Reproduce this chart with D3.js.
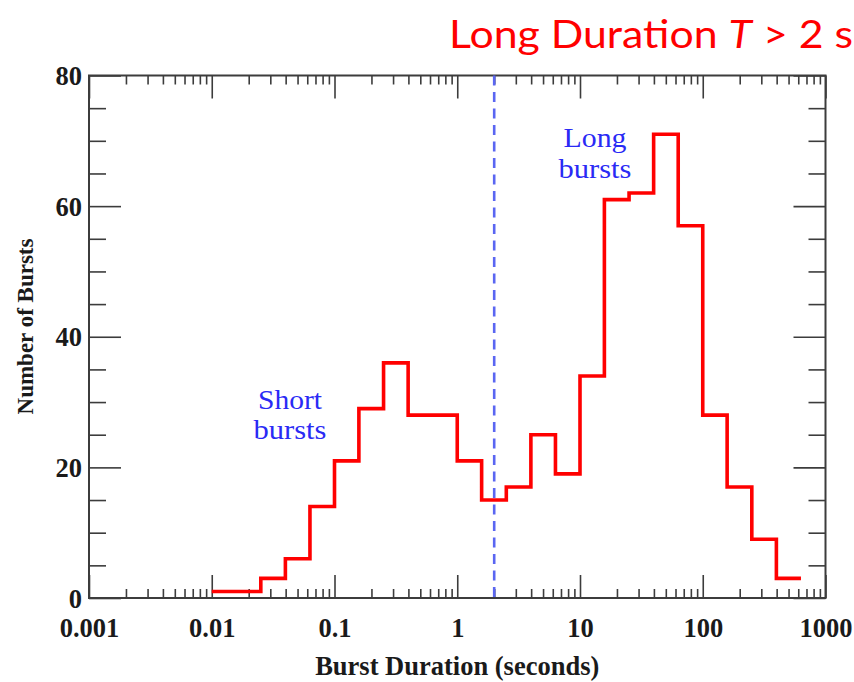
<!DOCTYPE html>
<html>
<head>
<meta charset="utf-8">
<script src="https://cdn.jsdelivr.net/npm/d3@7"></script>
<style>
  html, body { margin: 0; padding: 0; background: #fff; }
  svg { display: block; }
</style>
</head>
<body>
<svg id="chart" width="854" height="682"></svg>
<script>
// ---- data ----
const binEdges = [0.01, 0.0158, 0.0251, 0.0398, 0.0631, 0.1, 0.158, 0.251, 0.398, 0.631,
                  1, 1.58, 2.51, 3.98, 6.31, 10, 15.8, 25.1, 39.8, 63.1, 100, 158, 251, 398, 631];
const counts = [1, 1, 3, 6, 14, 21, 29, 36, 28, 28, 21, 15, 17, 25, 19, 34, 61, 62, 71, 57, 28, 17, 9, 3];
const xTickValues = [0.001, 0.01, 0.1, 1, 10, 100, 1000];
const xTickLabels = ["0.001", "0.01", "0.1", "1", "10", "100", "1000"];
const yTickValues = [0, 20, 40, 60, 80];
const yMinorValues = [5, 10, 15, 25, 30, 35, 45, 50, 55, 65, 70, 75];
const dividerValue = [2];
const titleParts = ["Long Duration ", "T", " > 2 s"];
const annotationLines = [["Short", "bursts"], ["Long", "bursts"]];

// ---- layout ----
const L = 89, R = 825.5, T = 75.5, B = 598;
const svg = d3.select("#chart");
const x = d3.scaleLog().domain([0.001, 1000]).range([L, R]);
const y = d3.scaleLinear().domain([0, 80]).range([B, T]);
const axisColor = "#3c3c3c";
const serif = "'Liberation Serif', 'Times New Roman', serif";

const minorX = x.ticks().filter(v => !xTickValues.some(t => Math.abs(Math.log10(v) - Math.log10(t)) < 1e-9));

function styleAxis(g) {
  g.select(".domain").remove();
  g.selectAll(".tick line").attr("stroke", axisColor).attr("stroke-width", 1.6);
}

// bottom (inward)
svg.append("g").attr("transform", `translate(0,${B})`)
  .call(d3.axisBottom(x).tickValues(xTickValues).tickSize(-23).tickFormat(""))
  .call(styleAxis);
svg.append("g").attr("transform", `translate(0,${B})`)
  .call(d3.axisBottom(x).tickValues(minorX).tickSize(-9).tickFormat(""))
  .call(styleAxis);
// top
svg.append("g").attr("transform", `translate(0,${T})`)
  .call(d3.axisTop(x).tickValues(xTickValues).tickSize(-23).tickFormat(""))
  .call(styleAxis);
svg.append("g").attr("transform", `translate(0,${T})`)
  .call(d3.axisTop(x).tickValues(minorX).tickSize(-9).tickFormat(""))
  .call(styleAxis);
// left
svg.append("g").attr("transform", `translate(${L},0)`)
  .call(d3.axisLeft(y).tickValues(yTickValues).tickSize(-32).tickFormat(""))
  .call(styleAxis);
svg.append("g").attr("transform", `translate(${L},0)`)
  .call(d3.axisLeft(y).tickValues(yMinorValues).tickSize(-17).tickFormat(""))
  .call(styleAxis);
// right
svg.append("g").attr("transform", `translate(${R},0)`)
  .call(d3.axisRight(y).tickValues(yTickValues).tickSize(-32).tickFormat(""))
  .call(styleAxis);
svg.append("g").attr("transform", `translate(${R},0)`)
  .call(d3.axisRight(y).tickValues(yMinorValues).tickSize(-17).tickFormat(""))
  .call(styleAxis);

// tick labels
const xLab = svg.append("g").attr("transform", `translate(0,${B})`)
  .call(d3.axisBottom(x).tickValues(xTickValues).tickSize(0).tickPadding(0)
        .tickFormat((d, i) => xTickLabels[i]));
xLab.select(".domain").remove();
xLab.selectAll("text").attr("y", 39).attr("dy", null)
  .attr("font-family", serif).attr("font-weight", "bold").attr("font-size", 26.5).attr("fill", "#1a1a1a");

const yLab = svg.append("g").attr("transform", `translate(${L},0)`)
  .call(d3.axisLeft(y).tickValues(yTickValues).tickSize(0).tickPadding(7));
yLab.select(".domain").remove();
yLab.selectAll("text").attr("dy", "0.34em")
  .attr("font-family", serif).attr("font-weight", "bold").attr("font-size", 26.5).attr("fill", "#1a1a1a");

// frame
svg.append("rect").attr("x", L).attr("y", T).attr("width", R - L).attr("height", B - T)
  .attr("fill", "none").attr("stroke", axisColor).attr("stroke-width", 2);

// divider dashed line
svg.selectAll(".divider").data(dividerValue).enter().append("line")
  .attr("class", "divider")
  .attr("x1", d => x(d)).attr("x2", d => x(d)).attr("y1", T).attr("y2", B)
  .attr("stroke", "#5a66f2").attr("stroke-width", 2.6).attr("stroke-dasharray", "10,6.5");

// histogram step line
const pts = counts.map((c, i) => [binEdges[i], c]);
pts.push([binEdges[binEdges.length - 1], counts[counts.length - 1]]);
const line = d3.line().x(d => x(d[0])).y(d => y(d[1])).curve(d3.curveStepAfter);
svg.append("path").attr("d", line(pts)).attr("fill", "none")
  .attr("stroke", "#ff0000").attr("stroke-width", 3.6).attr("stroke-linejoin", "miter");

// annotations
const annPos = [{ cx: 290, by: 408.5 }, { cx: 595, by: 147 }];
const annWidths = [[64, 73], [63, 73]];
annotationLines.forEach((lines, k) => {
  lines.forEach((ln, j) => {
    svg.append("text").attr("x", annPos[k].cx).attr("y", annPos[k].by + j * 30.5)
      .attr("text-anchor", "middle").attr("font-family", serif)
      .attr("font-size", 27.5).attr("fill", "#2a2af5")
      .attr("textLength", annWidths[k][j]).attr("lengthAdjust", "spacingAndGlyphs")
      .text(ln);
  });
});

// axis titles
svg.append("text").attr("x", (L + R) / 2).attr("y", 675).attr("text-anchor", "middle")
  .attr("font-family", serif).attr("font-weight", "bold").attr("font-size", 26.5)
  .attr("fill", "#1a1a1a").text("Burst Duration (seconds)");
svg.append("text").attr("transform", "translate(33,326.5) rotate(-90)").attr("text-anchor", "middle")
  .attr("font-family", serif).attr("font-weight", "bold").attr("font-size", 23)
  .attr("fill", "#1a1a1a").text("Number of Bursts");

// title
const title = svg.append("text").attr("x", 449).attr("y", 48)
  .attr("font-family", "Lato, 'Open Sans', sans-serif").attr("font-size", 38).attr("fill", "#ff0000")
  .attr("textLength", 404).attr("lengthAdjust", "spacingAndGlyphs");
title.append("tspan").text(titleParts[0]);
title.append("tspan").attr("font-style", "italic").text(titleParts[1]);
title.append("tspan").text(titleParts[2]);
</script>
</body>
</html>
